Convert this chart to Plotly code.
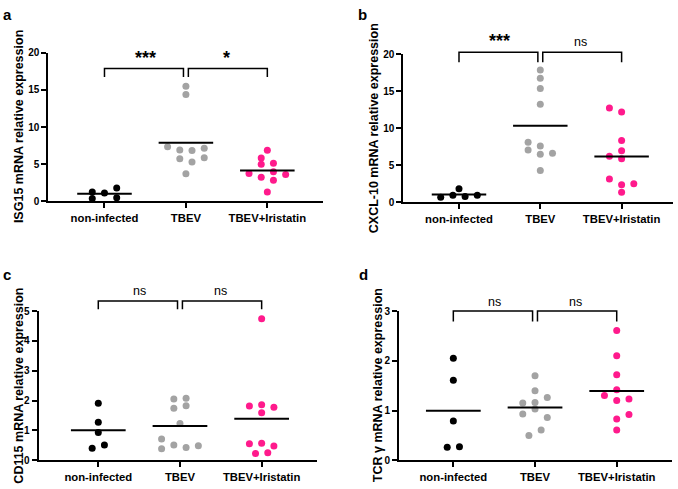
import numpy as np
import plotly.graph_objects as go

W, H = 678, 489
categories = ["non-infected", "TBEV", "TBEV+Iristatin"]

# ---- data ----
isg15_noninf = [0.39, 1.13, 1.27, 1.80, 0.48]
isg15_tbev = [15.5, 14.4, 7.37, 6.93, 6.85, 7.15, 5.74, 5.88, 5.30, 3.73]
isg15_iris = [6.88, 5.83, 5.00, 5.13, 3.77, 3.99, 3.24, 3.63, 2.84, 1.26]

cxcl10_noninf = [0.70, 0.96, 1.84, 0.79, 0.96]
cxcl10_tbev = [17.85, 16.75, 15.35, 13.25, 8.11, 7.06, 7.59, 6.49, 6.62, 4.30]
cxcl10_iris = [12.72, 12.19, 8.33, 6.97, 6.23, 5.88, 3.16, 2.37, 2.50, 1.36]

cd115_noninf = [1.91, 1.27, 0.93, 0.40, 0.51]
cd115_tbev = [2.05, 2.08, 1.74, 1.83, 1.23, 0.71, 0.39, 0.51, 0.43, 0.49]
cd115_iris = [4.74, 1.82, 1.86, 1.78, 1.59, 0.55, 0.57, 0.48, 0.23, 0.25]

tcrg_noninf = [2.05, 1.61, 0.79, 0.26, 0.27]
tcrg_tbev = [1.70, 1.40, 1.26, 1.15, 1.16, 1.03, 0.93, 0.86, 0.61, 0.50]
tcrg_iris = [2.61, 2.10, 1.72, 1.42, 1.30, 1.20, 1.23, 0.92, 0.83, 0.61]

sig_a = ["***", "*"]
sig_b = ["***", "ns"]
sig_c = ["ns", "ns"]
sig_d = ["ns", "ns"]

# ---- layout helpers: scatter column slots (dot-plot spreading) ----
slots_a = [[-2, 0, -2, 2, 2], [0, 0, -3, -1, 1, 3, -1, 3, 1, 0], [0, -1, -1, 1, -3, 1, -1, 3, 1, 0]]
slots_b = [[-3, -1, 0, 1, 3], [0, 0, 0, 0, -2, -2, 0, 0, 2, 0], [-2, 0, 0, 0, -2, 0, -2, 0, 2, 0]]
slots_c = [[0, 0, 0, -1, 1], [-1, 1, -1, 1, 0, -3, -3, -1, 1, 3], [0, -2, 0, 2, 0, -2, 0, 2, -1, 1]]
slots_d = [[0, 0, 0, -1, 1], [0, 0, 2, -2, 0, 0, -2, 2, 1, -1], [0, 0, 0, 0, -2, 0, 2, 2, 0, 0]]

COLORS = ["#000000", "#a3a3a3", "#ff1a8c"]
FONT = "Liberation Sans, Arial, sans-serif"
STEP = 0.075
HALF = 0.335

panels = [
    dict(letter="a", title="ISG15 mRNA relative expression",
         groups=[isg15_noninf, isg15_tbev, isg15_iris], slots=slots_a, sig=sig_a,
         px=(48.3, 322.7), py=(200.3, 48.0), xr=(-0.69, 2.68), yr=(0, 20), dtick=5,
         br=(16.75, 17.9), txt_px=(53.0, 53.0), title_x=19, letter_pos=(7, 9)),
    dict(letter="b", title="CXCL-10 mRNA relative expression",
         groups=[cxcl10_noninf, cxcl10_tbev, cxcl10_iris], slots=slots_b, sig=sig_b,
         px=(403.3, 673.0), py=(201.3, 49.3), xr=(-0.685, 2.632), yr=(0, 20), dtick=5,
         br=(18.9, 20.26), txt_px=(35.5, 36.7), title_x=374, letter_pos=(362, 9)),
    dict(letter="c", title="CD115 mRNA relative expression",
         groups=[cd115_noninf, cd115_tbev, cd115_iris], slots=slots_c, sig=sig_c,
         px=(38.5, 316.7), py=(465.7, 312.7), xr=(-0.732, 2.674), yr=(0, 5), dtick=1,
         br=(5.06, 5.34), txt_px=(292.3, 292.3), title_x=19, letter_pos=(7, 275)),
    dict(letter="d", title="TCR γ mRNA relative expression",
         groups=[tcrg_noninf, tcrg_tbev, tcrg_iris], slots=slots_d, sig=sig_d,
         px=(399.0, 671.7), py=(465.7, 312.7), xr=(-0.665, 2.673), yr=(0, 3), dtick=1,
         br=(2.79, 3.0), txt_px=(303.3, 303.3), title_x=377.5, letter_pos=(363, 275)),
]

fig = go.Figure()
shapes = []
annotations = []

for i, p in enumerate(panels):
    n = "" if i == 0 else str(i + 1)
    xa, ya = "x" + n, "y" + n
    (x0p, x1p), (y0p, y1p) = p["px"], p["py"]
    xdom = [x0p / W, x1p / W]
    ydom = [1 - y0p / H, 1 - y1p / H]
    xr, yr = p["xr"], p["yr"]

    def to_paper(xv, yv, xdom=xdom, ydom=ydom, xr=xr, yr=yr):
        px_ = xdom[0] + (xv - xr[0]) / (xr[1] - xr[0]) * (xdom[1] - xdom[0])
        py_ = ydom[0] + (yv - yr[0]) / (yr[1] - yr[0]) * (ydom[1] - ydom[0])
        return px_, py_

    for g, (vals, sl) in enumerate(zip(p["groups"], p["slots"])):
        xs = [g + s * STEP for s in sl]
        fig.add_trace(go.Scatter(x=xs, y=vals, mode="markers", xaxis=xa, yaxis=ya,
                                 marker=dict(size=7, color=COLORS[g], line=dict(width=0)),
                                 showlegend=False, hoverinfo="y"))
        m = float(np.mean(vals))
        fig.add_trace(go.Scatter(x=[g - HALF, g + HALF], y=[m, m], mode="lines",
                                 xaxis=xa, yaxis=ya, line=dict(color="black", width=2),
                                 showlegend=False, hoverinfo="skip"))

    # significance brackets
    yb, yt = p["br"]
    for k, (a0, a1) in enumerate([(0, 0.97), (1.03, 2)]):
        pa = to_paper(a0, yb)
        pb = to_paper(a0, yt)
        pc = to_paper(a1, yt)
        pd = to_paper(a1, yb)
        path = f"M{pa[0]},{pa[1]} L{pb[0]},{pb[1]} L{pc[0]},{pc[1]} L{pd[0]},{pd[1]}"
        shapes.append(dict(type="path", path=path, xref="paper", yref="paper",
                           line=dict(color="black", width=1.5)))
        s = p["sig"][k]
        star = s.startswith("*")
        tx, _ = to_paper(k + 0.5, 0)
        annotations.append(dict(x=tx, y=1 - p["txt_px"][k] / H,
                                xref="paper", yref="paper", text=s, showarrow=False,
                                xanchor="center", yanchor="middle",
                                font=dict(family=FONT, size=18 if star else 12.5, color="black",
                                          weight="bold" if star else "normal")))

    # y-axis title
    ymid = (y0p + y1p) / 2
    annotations.append(dict(x=p["title_x"] / W, y=1 - ymid / H, xref="paper", yref="paper",
                            text=p["title"], textangle=-90, showarrow=False,
                            xanchor="center", yanchor="middle",
                            font=dict(family=FONT, size=12.5, color="black", weight="bold")))
    # panel letter
    lx, ly = p["letter_pos"]
    annotations.append(dict(x=lx / W, y=1 - ly / H, xref="paper", yref="paper",
                            text=p["letter"], showarrow=False, xanchor="center", yanchor="middle",
                            font=dict(family=FONT, size=15, color="black", weight="bold")))

    fig.layout["xaxis" + n] = dict(domain=xdom, range=list(xr), anchor=ya,
                                   tickmode="array", tickvals=[0, 1, 2], ticktext=categories,
                                   showline=True, linewidth=2, linecolor="black",
                                   ticks="outside", ticklen=5, tickwidth=2, tickcolor="black",
                                   showgrid=False, zeroline=False,
                                   tickfont=dict(family=FONT, size=11.3, color="black", weight="bold"))
    fig.layout["yaxis" + n] = dict(domain=ydom, range=list(yr), anchor=xa,
                                   tick0=0, dtick=p["dtick"],
                                   showline=True, linewidth=2, linecolor="black",
                                   ticks="outside", ticklen=5, tickwidth=2, tickcolor="black",
                                   showgrid=False, zeroline=False,
                                   tickfont=dict(family=FONT, size=10, color="black", weight="bold"))

fig.update_layout(width=W, height=H, margin=dict(l=0, r=0, t=0, b=0),
                  paper_bgcolor="white", plot_bgcolor="white", showlegend=False,
                  shapes=shapes, annotations=annotations)

fig.write_html("out.html", config={"displayModeBar": False},
               post_script="document.body.style.margin='0';document.body.style.padding='0';")
